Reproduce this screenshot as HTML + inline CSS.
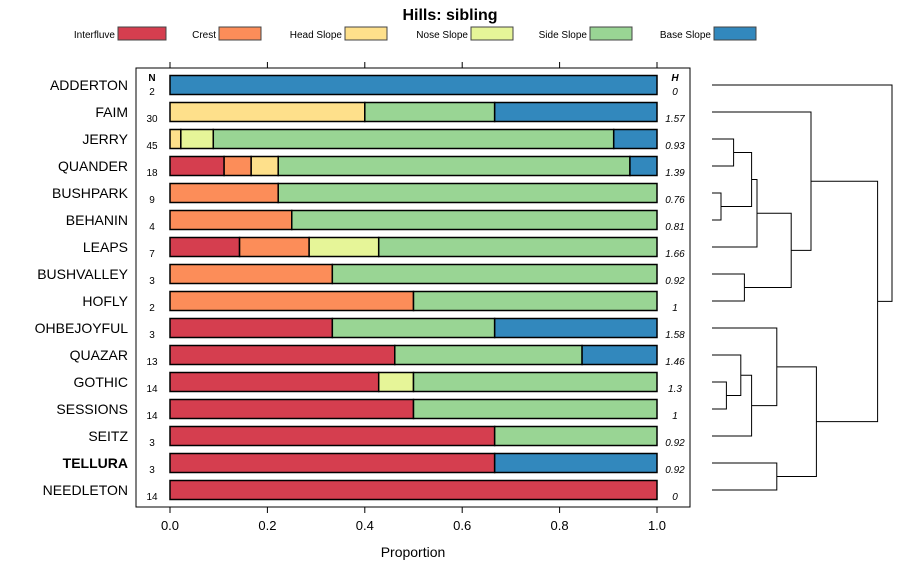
<!DOCTYPE html>
<html><head><meta charset="utf-8"><style>
body{margin:0;background:#fff;font-family:"Liberation Sans",sans-serif}
svg text{font-family:"Liberation Sans",sans-serif}
</style></head><body>
<svg id="c" width="900" height="580" xmlns="http://www.w3.org/2000/svg">
<text x="450" y="20" text-anchor="middle" font-size="16" font-weight="bold">Hills: sibling</text>
<g id="legend"></g>
<rect x="136" y="68" width="554" height="439" fill="none" stroke="#000" stroke-width="1"/>
<g id="bars"></g>
<g id="xaxis"></g>
<g id="dendro"></g>
<text x="413" y="557" text-anchor="middle" font-size="14">Proportion</text>
<text x="152" y="81" text-anchor="middle" font-size="10" font-weight="bold">N</text>
<text x="675" y="81" text-anchor="middle" font-size="10" font-weight="bold" font-style="italic">H</text>
</svg>
<script>
const classes=["Interfluve","Crest","Head Slope","Nose Slope","Side Slope","Base Slope"];
const colors=["#D53E4F","#FC8D59","#FEE08B","#E6F598","#99D594","#3288BD"];
const names=["ADDERTON","FAIM","JERRY","QUANDER","BUSHPARK","BEHANIN","LEAPS","BUSHVALLEY","HOFLY","OHBEJOYFUL","QUAZAR","GOTHIC","SESSIONS","SEITZ","TELLURA","NEEDLETON"];
const interfluve=[0,0,0,2,0,0,1,0,0,1,6,6,7,2,2,14];
const crest=[0,0,0,1,2,1,1,1,1,0,0,0,0,0,0,0];
const headSlope=[0,12,1,1,0,0,0,0,0,0,0,0,0,0,0,0];
const noseSlope=[0,0,3,0,0,0,1,0,0,0,0,1,0,0,0,0];
const sideSlope=[0,8,37,13,7,3,4,2,1,1,5,7,7,1,0,0];
const baseSlope=[2,10,4,1,0,0,0,0,0,1,2,0,0,0,1,0];
const nValues=[2,30,45,18,9,4,7,3,2,3,13,14,14,3,3,14];
const hValues=["0","1.57","0.93","1.39","0.76","0.81","1.66","0.92","1","1.58","1.46","1.3","1","0.92","0.92","0"];
const xTicks=[0,0.2,0.4,0.6,0.8,1.0];
const xTickLabels=["0.0","0.2","0.4","0.6","0.8","1.0"];
// dendrogram merges: [childA, childB, height]; negative = leaf index (-(i+1)), positive = merge number (1-based)
const merges=[[-5,-6,0.05],[-3,-4,0.12],[-13,-12,0.08],[-8,-9,0.18],[-11,3,0.16],[2,1,0.22],[-7,6,0.25],[5,-14,0.22],[-15,-16,0.36],[7,4,0.44],[-10,8,0.36],[-2,10,0.55],[11,9,0.58],[12,13,0.92],[-1,14,1.0]];
const NS="http://www.w3.org/2000/svg";
function mk(t,a,p){const e=document.createElementNS(NS,t);for(const k in a)e.setAttribute(k,a[k]);p.appendChild(e);return e;}
const x=v=>170+v*487;
const y=i=>85+i*27;
const series=[interfluve,crest,headSlope,noseSlope,sideSlope,baseSlope];
const bars=document.getElementById('bars');
names.forEach((n,i)=>{
  const t=mk('text',{x:128,y:y(i)+5,'text-anchor':'end','font-size':14,'font-weight':n==="TELLURA"?'bold':'normal'},bars);t.textContent=n;
  
  
  const tot=series.reduce((s,a)=>s+a[i],0);let c=0;
  series.forEach((a,k)=>{ if(!a[i])return;
    const r=mk('rect',{x:x(c/tot),y:y(i)-9.5,width:x((c+a[i])/tot)-x(c/tot),height:19,fill:colors[k],stroke:'#000','stroke-width':1.5},bars);
    
    
    c+=a[i];});
  const nt=mk('text',{x:152,y:y(i)+10,'text-anchor':'middle','font-size':10},bars);nt.textContent=nValues[i];
  
  
  const ht=mk('text',{x:675,y:y(i)+10,'text-anchor':'middle','font-size':10,'font-style':'italic'},bars);ht.textContent=hValues[i];
  
  
});
const xa=document.getElementById('xaxis');
xTicks.forEach((v,i)=>{
  mk('line',{x1:x(v),x2:x(v),y1:507,y2:513,stroke:'#000'},xa);
  mk('line',{x1:x(v),x2:x(v),y1:68,y2:62,stroke:'#000'},xa);
  const t=mk('text',{x:x(v),y:530,'text-anchor':'middle','font-size':13},xa);t.textContent=xTickLabels[i];
  
  
});
const lg=document.getElementById('legend');
const lgX=[118,261,386,513,631,756];
classes.forEach((c,k)=>{
  const t=mk('text',{x:lgX[k]-4,y:38,'text-anchor':'end','font-size':10},lg);t.textContent=c;
  
  
  const r=mk('rect',{x:lgX[k]+(k==0?0:-42)+(k==0?0:0),y:27,width:k==0?48:42,height:13,fill:colors[k],stroke:'#444'},lg);
  if(k==0){r.setAttribute('x',118);t.setAttribute('x',116);}
  
  
});
// fix legend positions: swatches start after labels
const swStart=[118,219,345,471,590,714];
[...lg.querySelectorAll('rect')].forEach((r,k)=>{r.setAttribute('x',swStart[k]);r.setAttribute('width',k==0?48:42);});
[...lg.querySelectorAll('text')].forEach((t,k)=>{t.setAttribute('x',swStart[k]-3);});
const dg=document.getElementById('dendro');
const hx=h=>712+h*180;
const pos=[];
function node(id){ if(id<0) return {x:712,y:y(-id-1)}; return pos[id-1]; }
merges.forEach((m,j)=>{
  const a=node(m[0]),b=node(m[1]),X=hx(m[2]);
  const p=mk('path',{d:`M${a.x},${a.y}H${X}V${b.y}H${b.x}`,fill:'none',stroke:'#000','stroke-width':1},dg);
  
  
  pos.push({x:X,y:(a.y+b.y)/2});
});
</script>
</body></html>
